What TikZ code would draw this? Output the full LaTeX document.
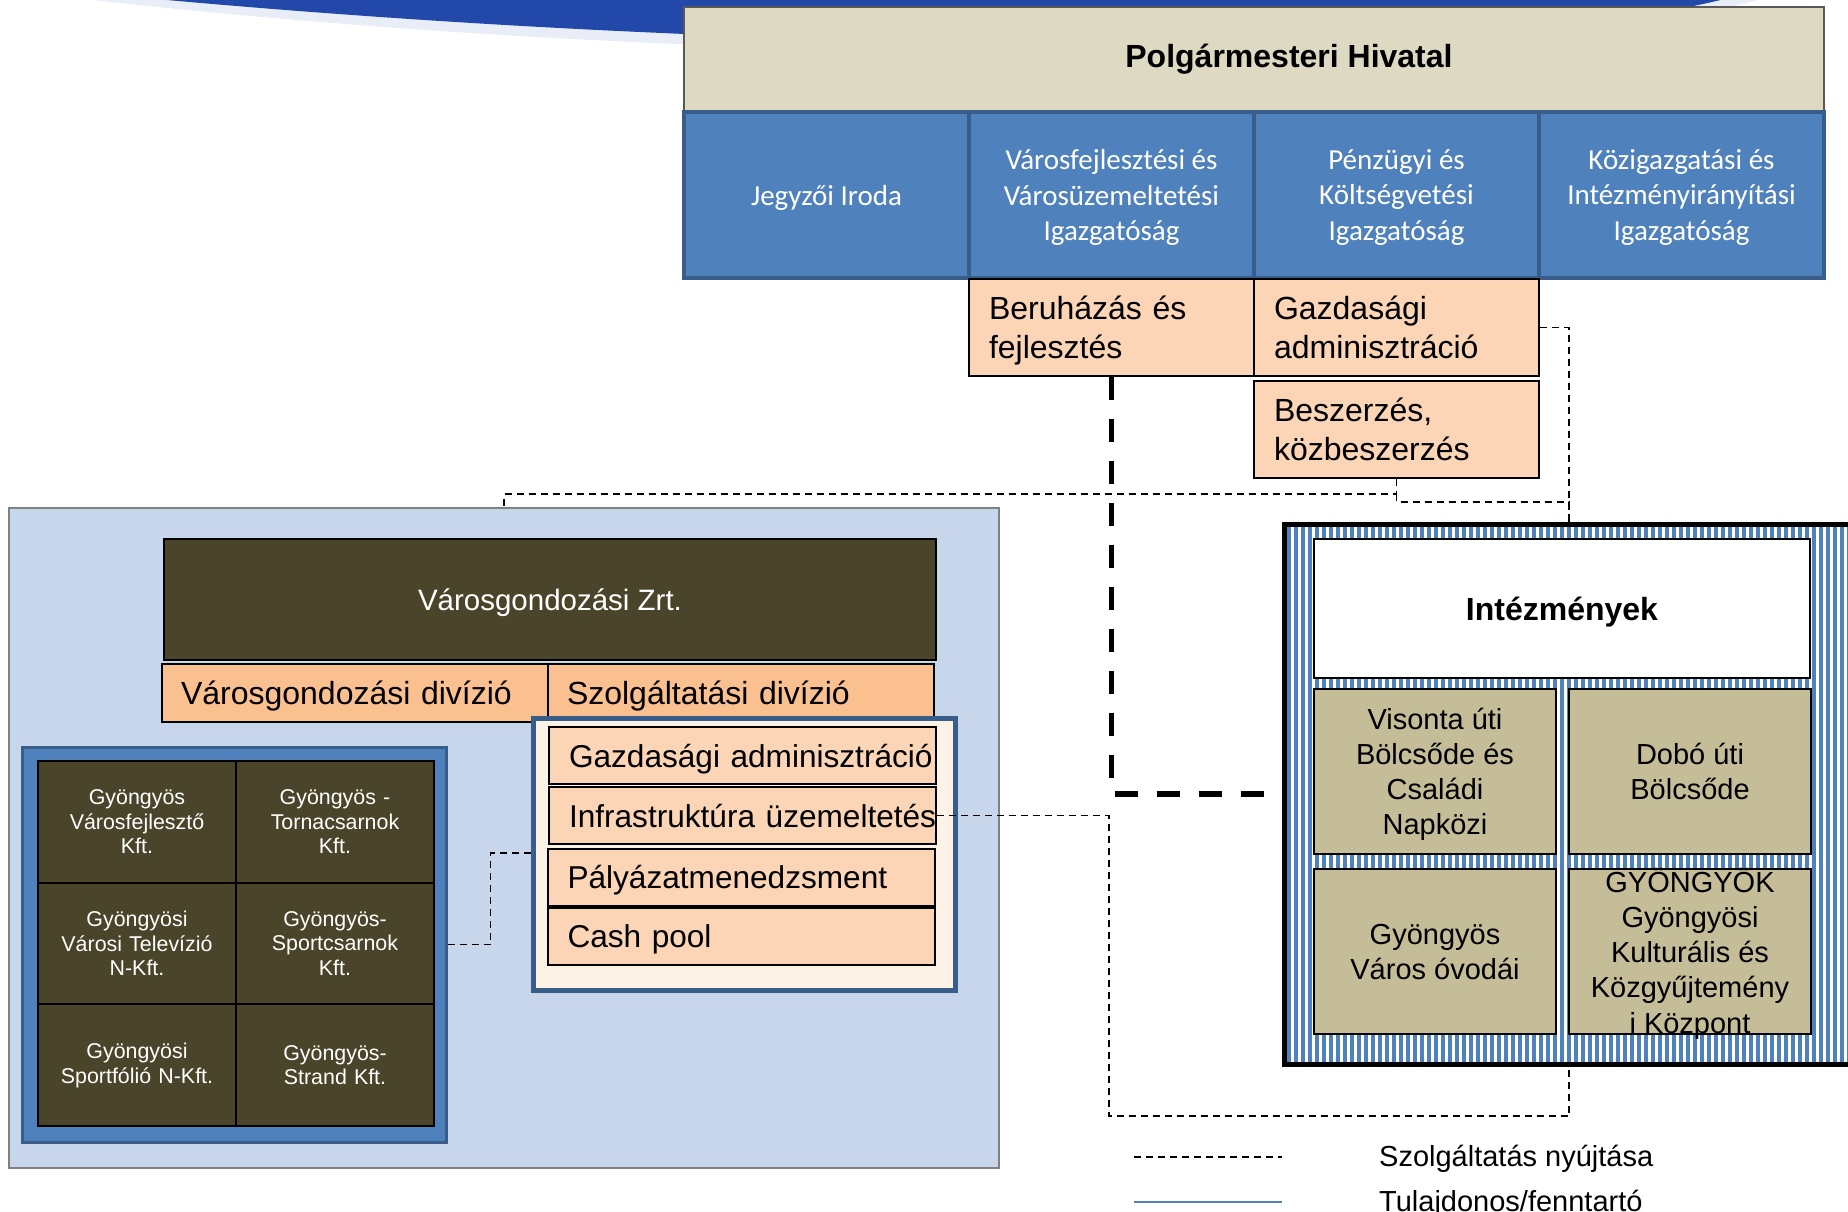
\documentclass[tikz,border=0pt]{standalone}
\usepackage{fontspec}
\setmainfont{Liberation Sans}
\newfontfamily\calibri{Carlito}
\definecolor{topblue}{RGB}{34,72,170}
\definecolor{polgfill}{RGB}{221,217,195}
\definecolor{cellblue}{RGB}{79,129,189}
\definecolor{edgeblue}{RGB}{56,93,138}
\definecolor{peach}{RGB}{251,213,181}
\definecolor{apricot}{RGB}{250,192,144}
\definecolor{skyback}{RGB}{199,214,234}
\definecolor{darkolive}{RGB}{74,69,42}
\definecolor{cream}{RGB}{253,242,230}
\definecolor{khaki}{RGB}{196,189,151}
\tikzset{
  hivatal/.style={draw=black!65, fill=polgfill, line width=1.5pt, minimum width=1140pt, minimum height=105pt, inner sep=0pt, font=\bfseries\fontsize{32}{38}\selectfont},
  igazg/.style={draw=edgeblue, fill=cellblue, line width=4pt, minimum width=285pt, minimum height=166pt, inner sep=0pt, text depth=0pt, text=white, align=center, font=\calibri\fontsize{29}{35.4}\selectfont},
  osztaly/.style={draw=black, fill=peach, line width=2pt, text width=245pt, inner xsep=20pt, inner ysep=0pt, text height=23pt, text depth=38.5pt, minimum height=97pt, align=left, font=\fontsize{32}{38.5}\selectfont},
  csoport/.style={draw=black!50, fill=skyback, line width=1.5pt, minimum width=990pt, minimum height=660pt, inner sep=0pt},
  ceg/.style={draw=black, fill=darkolive, line width=2pt, minimum width=772pt, minimum height=121pt, inner sep=0pt, text depth=0pt, text=white, font=\fontsize{29.5}{35}\selectfont},
  divizio/.style={draw=black, fill=apricot, line width=2pt, text width=348pt, inner xsep=19pt, inner ysep=0pt, text depth=0pt, minimum height=58pt, align=left, font=\fontsize{32}{38}\selectfont},
  keret/.style={draw=edgeblue, fill=cream, line width=5pt, minimum width=422pt, minimum height=272pt, inner sep=0pt},
  tetel/.style={draw=black, fill=peach, line width=2pt, text width=347pt, inner xsep=20pt, inner ysep=0pt, text depth=0pt, minimum height=57pt, align=left, font=\fontsize{31.6}{38}\selectfont},
  tulkeret/.style={draw=edgeblue, fill=cellblue, line width=3pt, minimum width=424pt, minimum height=395pt, inner sep=0pt},
  leanyceg/.style={draw=black, fill=darkolive, line width=2pt, minimum width=198pt, minimum height=121.7pt, inner sep=0pt, text width=190pt, align=center, text=white, font=\fontsize{21.4}{24.6}\selectfont},
  intkeret/.style={draw=black, line width=5pt, minimum width=570pt, minimum height=540pt, inner sep=0pt},
  intfej/.style={draw=black, fill=white, line width=2pt, minimum width=496pt, minimum height=139pt, inner sep=0pt, text depth=0pt, font=\bfseries\fontsize{32}{38}\selectfont},
  intezmeny/.style={draw=black, fill=khaki, line width=2pt, minimum width=242pt, minimum height=165pt, inner sep=0pt, text depth=0pt, align=center, font=\fontsize{29}{35.2}\selectfont},
  szolgvonal/.style={draw=black, line width=1.8pt, dash pattern=on 7pt off 5pt},
  fovonal/.style={draw=black, line width=5.5pt, dash pattern=on 23pt off 19pt},
  tulvonal/.style={draw=cellblue, line width=2.5pt},
  jelmagy/.style={anchor=west, inner sep=0pt, text depth=0pt, font=\fontsize{29}{35}\selectfont}
}
\begin{document}
\begin{tikzpicture}[x=1pt, y=-1pt, line join=miter]
\useasboundingbox (0,0) rectangle (1848,1212);

% ives kek sav a tetejen, halvany arnyekkal
\fill[topblue!10] (30,-20) -- (40,-6) .. controls (380,34) and (700,50) .. (1100,55)
  .. controls (1500,55) and (1660,28) .. (1780,-6) -- (1800,-20) -- cycle;
\fill[topblue] (30,-20) -- (40,-12) .. controls (380,22) and (700,40) .. (1100,45)
  .. controls (1500,45) and (1650,20) .. (1760,-10) -- (1780,-20) -- cycle;

% hivatal es igazgatosagok
\node[hivatal] (hiv) at (1254,59.5) {\hspace*{70pt}Polgármesteri Hivatal};
\node[igazg] (jegyzo) at (826.5,195) {Jegyzői Iroda};
\node[igazg] (varosfejl) at (1111.5,195) {Városfejlesztési és\\Városüzemeltetési\\Igazgatóság};
\node[igazg] (penzugy) at (1396.5,195) {Pénzügyi és\\Költségvetési\\Igazgatóság};
\node[igazg] (kozig) at (1681.5,195) {Közigazgatási és\\Intézményirányítási\\Igazgatóság};

\node[osztaly] (beruh) at (1111.5,327.5) {Beruházás és\\fejlesztés};
\node[osztaly] (gazd) at (1396.5,327.5) {Gazdasági\\adminisztráció};
\node[osztaly] (besz) at (1396.5,429.5) {Beszerzés,\\közbeszerzés};

% varosgondozasi csoport
\node[csoport] (vgcs) at (504,838) {};
\node[ceg] (vgzrt) at (550,599.5) {Városgondozási Zrt.};
\node[divizio] (vdiv) at (355,693) {Városgondozási divízió};
\node[divizio] (sdiv) at (741,693) {Szolgáltatási divízió};

\node[keret] (szolg) at (744,854) {};
\node[tetel] (gazd2) at (742.5,755.5) {\mbox{Gazdasági adminisztráció}};
\node[tetel] (infra) at (742.5,815.5) {\mbox{Infrastruktúra üzemeltetés}};
\node[tetel] (palyaz) at (741,877) {Pályázatmenedzsment};
\node[tetel] (cash) at (741,936.5) {Cash pool};

\node[tulkeret] (subs) at (234,944.5) {};
\node[leanyceg] (vfk) at (137,821.8) {Gyöngyös\\Városfejlesztő\\Kft.};
\node[leanyceg] (torna) at (335,821.8) {Gyöngyös -\\Tornacsarnok\\Kft.};
\node[leanyceg] (vtv) at (137,943.5) {Gyöngyösi\\Városi Televízió\\N-Kft.};
\node[leanyceg] (sport) at (335,943.5) {Gyöngyös-\\Sportcsarnok\\Kft.};
\node[leanyceg] (portf) at (137,1065.2) {Gyöngyösi\\Sportfólió N-Kft.};
\node[leanyceg] (strand) at (335,1065.2) {Gyöngyös-\\Strand Kft.};

% intezmenyek
\foreach \sx in {1287,1294,...,1848}
  \fill[cellblue] (\sx,524) rectangle ++(3.5,540);
\node[intkeret] (intkeret) at (1569,794) {};
\node[intfej] (intfej) at (1562,608.5) {Intézmények};
\node[intezmeny] (visonta) at (1435,771.5) {Visonta úti\\Bölcsőde és\\Családi\\Napközi};
\node[intezmeny] (dobo) at (1690,771.5) {Dobó úti\\Bölcsőde};
\node[intezmeny] (ovoda) at (1435,951.5) {Gyöngyös\\Város óvodái};
\node[intezmeny, text height=163pt] (gyongyok) at (1690,951.5) {GYÖNGYÖK\\Gyöngyösi\\Kulturális és\\Közgyűjtemény\\i Központ};

% kapcsolatok
\draw[szolgvonal] (besz.south) -- ++(0,15) coordinate (bszag) -| (vgcs.north);
\draw[szolgvonal] (bszag) -- ++(0,8) -| (intkeret.north);
\draw[szolgvonal] (gazd.east) -| (intkeret.north);
\draw[fovonal, shorten >=13pt] (beruh.south) |- (intkeret.west);
\coordinate (alsosarok) at (1109,1116);
\draw[szolgvonal] (infra.east) -| (alsosarok) -| (intkeret.south);
\draw[szolgvonal] (subs.east) -- ++(43,0) |- (szolg.west |- 0,853);

% jelmagyarazat
\coordinate (jel1a) at (1134,1157);
\coordinate (jel1b) at (1282,1157);
\coordinate (jel2a) at (1134,1202);
\coordinate (jel2b) at (1282,1202);
\draw[szolgvonal] (jel1a) -- (jel1b);
\draw[tulvonal] (jel2a) -- (jel2b);
\node[jelmagy] (jel1) at (1379,1156) {Szolgáltatás nyújtása};
\node[jelmagy] (jel2) at (1379,1201) {Tulajdonos/fenntartó};

\end{tikzpicture}
\end{document}
